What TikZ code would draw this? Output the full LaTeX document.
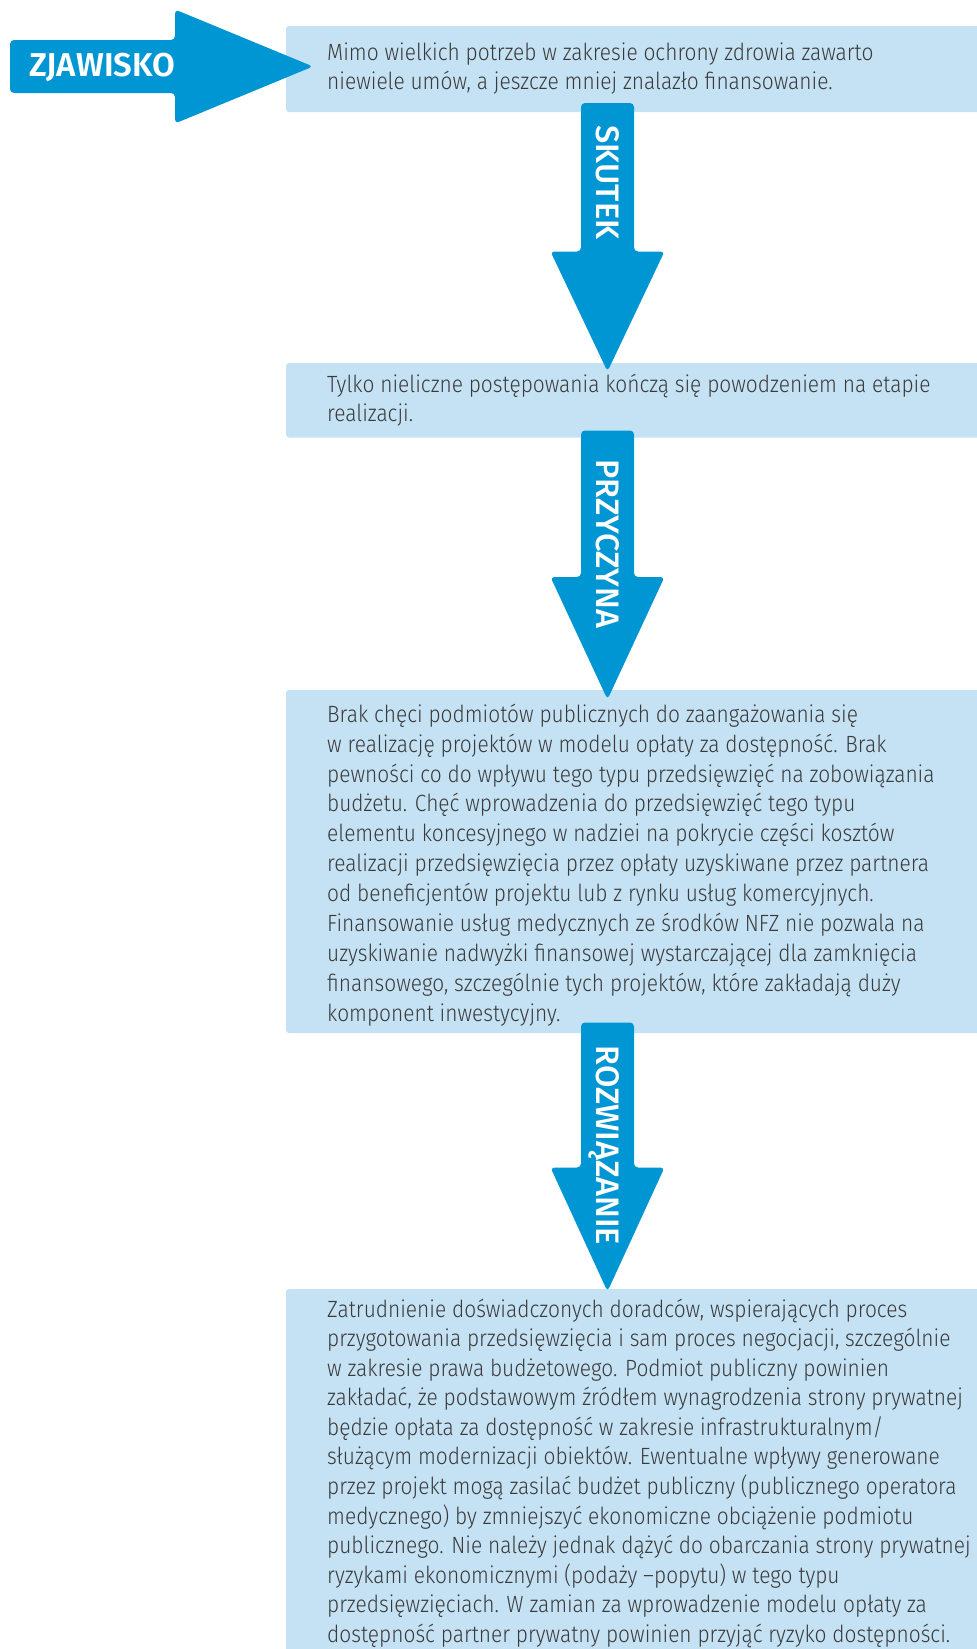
\documentclass[tikz,border=0pt]{standalone}
\usepackage{fontspec}
\IfFontExistsTF{Fira Sans Light}{\newfontfamily\bodyfont{Fira Sans Light}[FakeStretch=0.89]}{\newfontfamily\bodyfont{Fira Sans}[FakeStretch=0.89]}
\IfFontExistsTF{Fira Sans SemiBold}{\newfontfamily\zjfont{Fira Sans SemiBold}}{\newfontfamily\zjfontbase{Fira Sans}\def\zjfont{\zjfontbase\bfseries}}
\IfFontExistsTF{Fira Sans Medium}{\newfontfamily\lblfont{Fira Sans Medium}}{\newfontfamily\lblfont{Fira Sans}}
\definecolor{arrowblue}{HTML}{0096D4}
\definecolor{boxblue}{HTML}{C5E2F4}
\definecolor{textgray}{HTML}{3A3A3A}
\tikzset{
  infobox/.style={fill=boxblue, rounded corners=3pt, inner sep=0pt, outer sep=0pt, anchor=north west},
  bodytext/.style={anchor=north west, inner sep=0pt, align=left, text=textgray},
  arrowlabel/.style={text=white, inner sep=0pt, anchor=base, rotate=-90, font={\lblfont\fontsize{32.5}{32.5}\selectfont}},
  blockarrow/.style={fill=arrowblue, rounded corners=4pt}
}
\newcommand{\firstline}{\rule{0pt}{25pt}}
\begin{document}
\begin{tikzpicture}[x=1pt,y=-1pt]
\useasboundingbox (0,0) rectangle (977,1649);
\clip (0,0) rectangle (977,1649);
% boxes
\node[infobox, minimum width=720pt, minimum height=86pt] (b1) at (286,26) {};
\node[infobox, minimum width=720pt, minimum height=74.5pt] (b2) at (286,363) {};
\node[infobox, minimum width=720pt, minimum height=343pt] (b3) at (286,690) {};
\node[infobox, minimum width=720pt, minimum height=380pt] (b4) at (286,1289) {};
% texts
\node[bodytext, font={\bodyfont\fontsize{23.5}{29.5}\selectfont}] (t1) at (327,35) {\firstline Mimo wielkich potrzeb w zakresie ochrony zdrowia zawarto\\
niewiele umów, a jeszcze mniej znalazło finansowanie.};
\node[bodytext, font={\bodyfont\fontsize{23.5}{29.5}\selectfont}] (t2) at (327,367) {\firstline Tylko nieliczne postępowania kończą się powodzeniem na etapie\\
realizacji.};
\node[bodytext, font={\bodyfont\fontsize{23.5}{29.9}\selectfont}] (t3) at (327,697) {\firstline Brak chęci podmiotów publicznych do zaangażowania się\\
w realizację projektów w modelu opłaty za dostępność. Brak\\
pewności co do wpływu tego typu przedsięwzięć na zobowiązania\\
budżetu. Chęć wprowadzenia do przedsięwzięć tego typu\\
elementu koncesyjnego w nadziei na pokrycie części kosztów\\
realizacji przedsięwzięcia przez opłaty uzyskiwane przez partnera\\
od beneficjentów projektu lub z rynku usług komercyjnych.\\
Finansowanie usług medycznych ze środków NFZ nie pozwala na\\
uzyskiwanie nadwyżki finansowej wystarczającej dla zamknięcia\\
finansowego, szczególnie tych projektów, które zakładają duży\\
komponent inwestycyjny.};
\node[bodytext, font={\bodyfont\fontsize{23.5}{29.55}\selectfont}] (t4) at (327,1292) {\firstline Zatrudnienie doświadczonych doradców, wspierających proces\\
przygotowania przedsięwzięcia i sam proces negocjacji, szczególnie\\
w zakresie prawa budżetowego. Podmiot publiczny powinien\\
zakładać, że podstawowym źródłem wynagrodzenia strony prywatnej\\
będzie opłata za dostępność w zakresie infrastrukturalnym/\\
służącym modernizacji obiektów. Ewentualne wpływy generowane\\
przez projekt mogą zasilać budżet publiczny (publicznego operatora\\
medycznego) by zmniejszyć ekonomiczne obciążenie podmiotu\\
publicznego. Nie należy jednak dążyć do obarczania strony prywatnej\\
ryzykami ekonomicznymi (podaży –popytu) w tego typu\\
przedsięwzięciach. W zamian za wprowadzenie modelu opłaty za\\
dostępność partner prywatny powinien przyjąć ryzyko dostępności.};
% ZJAWISKO arrow
\fill[blockarrow] (10,40) -- (175,40) -- (175,9.5) -- (313,66.5) -- (175,123.5) -- (175,93) -- (10,93) -- cycle;
\node[text=white, inner sep=0pt, anchor=base west, font={\zjfont\fontsize{33}{33}\selectfont}] (zj) at (29,76) {ZJAWISKO};
% vertical arrows
\fill[blockarrow] (581,103) -- (634,103) -- (634,251.5) -- (664.5,251.5) -- (607.5,371.5) -- (550.5,251.5) -- (581,251.5) -- cycle;
\node[arrowlabel] (l1) at (596.3,182.5) {SKUTEK};
\fill[blockarrow] (581,430.5) -- (634,430.5) -- (634,577) -- (664.5,577) -- (607.5,699.5) -- (550.5,577) -- (581,577) -- cycle;
\node[arrowlabel] (l2) at (596.3,544) {PRZYCZYNA};
\fill[blockarrow] (581,1022.5) -- (634,1022.5) -- (634,1167.5) -- (664.5,1167.5) -- (607.5,1291.5) -- (550.5,1167.5) -- (581,1167.5) -- cycle;
\node[arrowlabel] (l3) at (596.3,1145.5) {ROZWIĄZANIE};
\end{tikzpicture}
\end{document}
